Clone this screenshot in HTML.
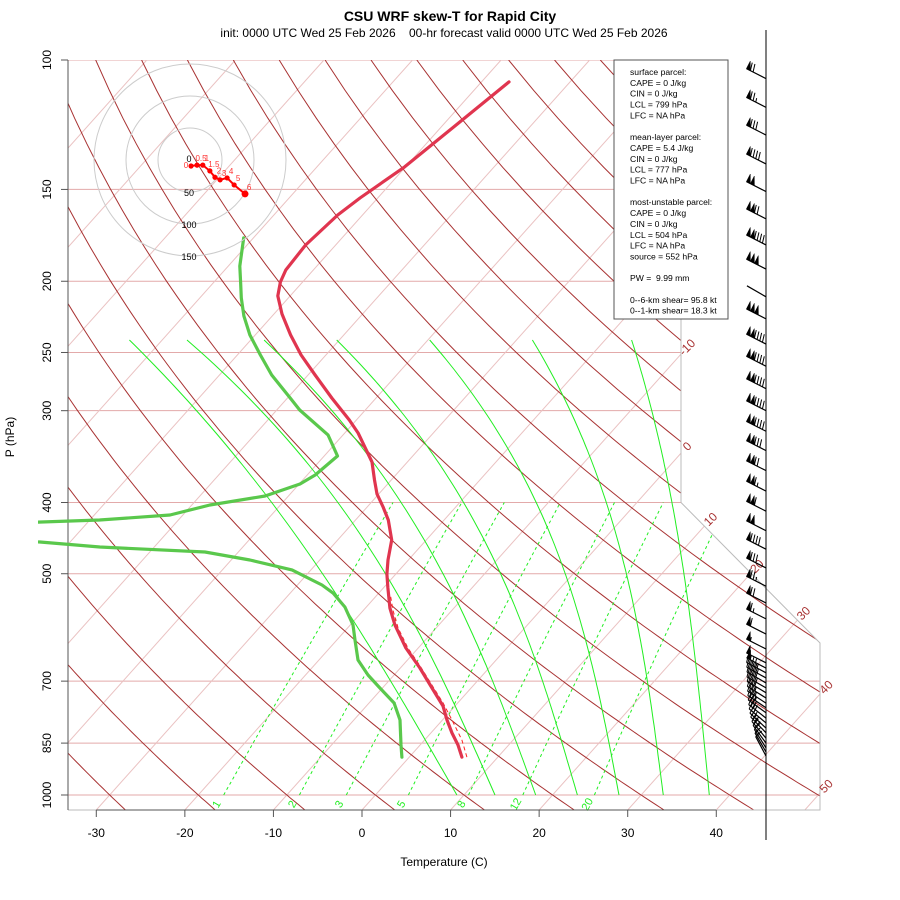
<!DOCTYPE html>
<html><head><meta charset="utf-8"><title>CSU WRF skew-T for Rapid City</title>
<style>
html,body{margin:0;padding:0;background:#fff;}
svg{display:block;font-family:"Liberation Sans",sans-serif;}
text{white-space:pre;}
</style></head>
<body>
<svg id="chart" width="900" height="900" viewBox="0 0 900 900" xmlns="http://www.w3.org/2000/svg" xml:space="preserve">
<defs>
<clipPath id="diag"><path d="M68,60 L681,60 L681,502.5 L820,643 L820,810 L68,810 Z"/></clipPath>
<clipPath id="plotc"><rect x="38" y="55" width="728" height="760"/></clipPath>
</defs>
<rect x="0" y="0" width="900" height="900" fill="#fff"/>
<text x="450" y="21" text-anchor="middle" font-size="14" font-weight="bold">CSU WRF skew-T for Rapid City</text>
<text x="444" y="37" text-anchor="middle" font-size="12">init: 0000 UTC Wed 25 Feb 2026    00-hr forecast valid 0000 UTC Wed 25 Feb 2026</text>
<text x="444" y="866" text-anchor="middle" font-size="12">Temperature (C)</text>
<text x="14" y="437" text-anchor="middle" font-size="12" transform="rotate(-90 14 437)">P (hPa)</text>
</svg>
<script>
// ---------------- data ----------------
const pLevels = [100,150,200,250,300,400,500,700,850,1000];
const xTicks = [-30,-20,-10,0,10,20,30,40];
const isoT = [-110,-100,-90,-80,-70,-60,-50,-40,-30,-20,-10,0,10,20,30,40,50];
const isoLabels = [-10,0,10,20,30,40,50];
const thetaC = [-30,-20,-10,0,10,20,30,40,50,60,70,80,90,100,110,120,130,140,150,160,170,180,190,200];
const mixW = [1,2,3,5,8,12,20];
const moistT1000 = [9.2,13.5,18.1,22.8,27.5,32.5,37.7];
const moistT500 = [-28.3,-21.2,-14.7,-8.2,-0.9,6.0,12.5];
const moistT240 = [-73.7,-67.2,-58.5,-50.3,-39.8,-28.2,-17.0];

const tempP = [888,855,823.5,790.6,756.7,715.2,671.8,631,587,556.6,522.8,500.5,479,449.9,422.5,405.7,389.5,372.8,352.3,321.7,308.9,288.3,268.3,252,236.7,221.6,209.4,200.5,193.1,178.5,162.5,154.1,139.8,124.5,107.1];
const tempT = [5.94,4.28,2.39,0.51,-1.35,-4.41,-7.79,-11.39,-14.96,-17.24,-19.49,-21.0,-22.3,-23.9,-26.3,-28.2,-30.2,-31.9,-34.0,-38.5,-40.8,-45.0,-49.2,-52.8,-56.0,-59.1,-61.4,-62.5,-63.1,-63.4,-62.8,-62.0,-60.1,-58.7,-56.9];
const dewP = [888,855,790.6,749.6,715.2,686.6,655.1,615.4,587,555,531,517.9,494.1,479,467.1,459.9,452.7,440,426.5,422.5,416,403.2,391.9,377.5,367,345.8,323.7,299.4,288.3,268.3,252,236.7,223,210.8,200.5,190.7,174.6];
const dewT = [-0.84,-2.16,-4.8,-7.18,-10.29,-12.95,-15.59,-17.95,-19.7,-22.42,-25.19,-27.23,-32.13,-37.89,-43.77,-56.14,-63.4,-90,-68.5,-58.9,-51.45,-47.95,-42.64,-39.9,-39.1,-38.5,-41.7,-47.4,-49.7,-54.1,-57.4,-60.6,-63.2,-65.3,-67.0,-68.7,-71.1];
const parcelP = [888,841.8,790.6,749.6,708.6,667.5,631,592.6,560.1,534.4];
const parcelT = [6.5,4.22,1.07,-1.65,-4.72,-7.98,-11.17,-14.3,-16.7,-18.5];

const barbP = [106,116,126.5,138.5,151,164.5,178.5,192.5,210,225,243.5,261,280,300,320,340,362,386,411,437,463,491,520,548,576,604,633,661,672,682,693,704,715,726,738,750,761,773,786,798,811,823,837,850,863,874,885];
const barbSpd = [70,75,80,90,100,120,140,150,2,150,140,140,140,140,140,130,120,115,110,100,90,80,75,70,65,60,55,50,50,45,45,40,40,40,35,35,35,30,30,30,25,25,20,20,15,15,10];
const barbDir = [297,297,297,297,297,297,297,297,300,297,297,297,297,297,297,297,297,297,297,297,297,297,297,297,297,297,297,297,298,298,299,300,300,301,302,303,304,306,308,310,313,316,320,324,328,330,332];

const hodoU = [1.6,11,20,31,39,47,58,69,86];
const hodoV = [-9.4,-8,-8,-17,-27,-31,-28,-39,-53];
const hodoLab = ['0','0.5','1','1.5','2','3','4','5','6'];
const hodoRings = [50,100,150];

const legendLines = ['surface parcel:','CAPE = 0 J/kg','CIN = 0 J/kg','LCL = 799 hPa','LFC = NA hPa','','mean-layer parcel:','CAPE = 5.4 J/kg','CIN = 0 J/kg','LCL = 777 hPa','LFC = NA hPa','','most-unstable parcel:','CAPE = 0 J/kg','CIN = 0 J/kg','LCL = 504 hPa','LFC = NA hPa','source = 552 hPa','','PW =  9.99 mm','','0--6-km shear= 95.8 kt','0--1-km shear= 18.3 kt'];

// ---------------- axes ----------------
const Y = p => 60 + 319.2*Math.log(p/100);
const X = (T, y) => 362 + 8.857*T + 0.894*(810 - y);
const NS = 'http://www.w3.org/2000/svg';
const svg = document.getElementById('chart');
function mk(tag, attrs, parent){const e=document.createElementNS(NS,tag);for(const k in attrs)e.setAttribute(k,attrs[k]);(parent||svg).appendChild(e);return e;}
function pts(arr){return arr.map(a=>a[0].toFixed(1)+','+a[1].toFixed(1)).join(' ');}

const bg = mk('g',{'clip-path':'url(#diag)'});



pLevels.forEach(p=>{
  const l = mk('line',{x1:68,x2:830,y1:Y(p),y2:Y(p),stroke:'#e3aaaa','stroke-width':1},bg);
  
  
});
isoT.forEach(T=>{
  const l = mk('line',{x1:X(T,810),y1:810,x2:X(T,60),y2:60,stroke:'#eac2c2','stroke-width':1},bg);
  
  
});
thetaC.forEach(th=>{
  const a=[];
  for(let p=1050;p>=100;p-=10){const T=(th+273.15)*Math.pow(p/1000,0.2857)-273.15;const y=Y(p);a.push([X(T,y),y]);}
  const l = mk('polyline',{points:pts(a),fill:'none',stroke:'#a83232','stroke-width':1},bg);
  
  
});
function tdew(w,p){const e=w*p/(622+w);const L=Math.log(e/6.112);return 243.5*L/(17.67-L);}
mixW.forEach(w=>{
  const a=[];
  for(let p=1000;p>=400;p-=20){const y=Y(p);a.push([X(tdew(w,p),y),y]);}
  const l = mk('polyline',{points:pts(a),fill:'none',stroke:'#22ee22','stroke-width':1,'stroke-dasharray':'3,3'},bg);
  
  
});
moistT1000.forEach((t0,i)=>{
  const yb=Y(1000), ym=Y(500), yt=Y(240.4);
  const xb=X(t0,yb), xm=X(moistT500[i],ym), xt=X(moistT240[i],yt);
  const h1=yb-ym, h2=yb-yt, d1=xb-xm, d2=xb-xt;
  const b=(d2-d1*h2/h1)/(h2*h2*h2-h1*h1*h2);
  const a=(d1-b*h1*h1*h1)/h1;
  const arr=[];
  for(let y=yb;y>=yt-0.1;y-=5){const h=yb-y;arr.push([xb-a*h-b*h*h*h,y]);}
  const l = mk('polyline',{points:pts(arr),fill:'none',stroke:'#22ee22','stroke-width':1},bg);
  
  
});
const outline = mk('path',{d:'M681,60 L681,502.5 L820,643 L820,810 L68,810',fill:'none',stroke:'#bbbbbb','stroke-width':1});



isoLabels.forEach(T=>{
  let x,y;
  y = 810-(681-362-8.857*T)/0.894; x=681;
  if(y>502.5){ y=(902.2+8.857*T)/1.8833; x=681+(y-502.5)*0.9893; }
  if(x>820){ x=820; y=810-(820-362-8.857*T)/0.894; }
  const lx=x+9, ly=y-4;
  const t = mk('text',{x:lx,y:ly,fill:'#a83232','font-size':12,'text-anchor':'middle',transform:'rotate(-45 '+lx+' '+ly+')'});
  t.textContent=String(T);
  
  
});
mixW.forEach(w=>{
  const lx=X(tdew(w,1000),Y(1000))-4, ly=806;
  const t = mk('text',{x:lx,y:ly,fill:'#22ee22','font-size':11,'text-anchor':'middle',transform:'rotate(-60 '+lx+' '+ly+')'});
  t.textContent=String(w);
  
  
});

const yax = mk('line',{x1:68,x2:68,y1:60,y2:810,stroke:'#555','stroke-width':1});


pLevels.forEach(p=>{
  const tk = mk('line',{x1:61,x2:68,y1:Y(p),y2:Y(p),stroke:'#555'});
  
  
  const t = mk('text',{x:51,y:Y(p),'font-size':12,'text-anchor':'middle',transform:'rotate(-90 51 '+Y(p)+')'});
  t.textContent=String(p);
  
  
});
const xax = mk('line',{x1:X(xTicks[0],810),x2:X(xTicks[xTicks.length-1],810),y1:810,y2:810,stroke:'#555'});


xTicks.forEach(T=>{
  const x=X(T,810);
  const tk = mk('line',{x1:x,x2:x,y1:810,y2:817,stroke:'#555'});
  
  
  const t = mk('text',{x:x,y:837,'font-size':12,'text-anchor':'middle'});
  t.textContent=String(T);
  
  
});

const prof = mk('g',{'clip-path':'url(#plotc)'});


function profile(P,T){return pts(P.map((p,i)=>{const y=Y(p);return [X(T[i],y),y];}));}
const dew = mk('polyline',{points:profile(dewP,dewT),fill:'none',stroke:'#5ac84c','stroke-width':3.2,'stroke-linejoin':'round','stroke-linecap':'round'},prof);


const par = mk('polyline',{points:profile(parcelP,parcelT),fill:'none',stroke:'#ff2020','stroke-width':1,'stroke-dasharray':'4,3'},prof);


const tmp = mk('polyline',{points:profile(tempP,tempT),fill:'none',stroke:'#e0354f','stroke-width':3.2,'stroke-linejoin':'round','stroke-linecap':'round'},prof);



const hc=[190,160], hs=32/50;
const hg = mk('g',{});


hodoRings.forEach(r=>{
  const c = mk('circle',{cx:hc[0],cy:hc[1],r:r*hs,fill:'none',stroke:'#cccccc','stroke-width':1},hg);
  
  
  const t = mk('text',{x:hc[0]-1,y:hc[1]+r*hs+4,'font-size':9,'text-anchor':'middle'},hg);
  t.textContent=String(r);
  
  
});
const h0 = mk('text',{x:hc[0]-1,y:hc[1]+2,'font-size':9,'text-anchor':'middle'},hg);
h0.textContent='0';


const hpts = hodoU.map((u,i)=>[hc[0]+u*hs, hc[1]-hodoV[i]*hs]);
const hl = mk('polyline',{points:pts(hpts),fill:'none',stroke:'#ff0000','stroke-width':2},hg);


hpts.forEach((q,i)=>{
  const c = mk('circle',{cx:q[0],cy:q[1],r:i===hpts.length-1?3.5:2.6,fill:'#ff0000'},hg);
  
  
  const t = mk('text',{x:q[0]+(i===0?-5:4),y:q[1]-(i===0?-2:4),'font-size':8,fill:'#ff3333','text-anchor':'middle'},hg);
  t.textContent=hodoLab[i];
  
  
});

const lg = mk('g',{});


const lr = mk('rect',{x:614,y:60,width:114,height:259,fill:'#fff',stroke:'#555','stroke-width':1},lg);


legendLines.forEach((s,i)=>{
  if(!s) return;
  const t = mk('text',{x:630,y:75+i*10.85,'font-size':8.6},lg);
  t.textContent=s;
  
  
});

const wl = mk('line',{x1:766,x2:766,y1:30,y2:840,stroke:'#000','stroke-width':1});


const bgp = mk('g',{});


barbP.forEach((p,i)=>{
  const y0=Y(p), x0=766, d=barbDir[i]*Math.PI/180;
  const ux=Math.sin(d), uy=-Math.cos(d), L=22;
  const tx=x0+ux*L, ty=y0+uy*L;
  const px=-uy, py=ux;
  const g = mk('g',{},bgp);
  
  
  mk('line',{x1:x0,y1:y0,x2:tx,y2:ty,stroke:'#000','stroke-width':1.2},g);
  let s=Math.round(barbSpd[i]/5)*5;
  const flags=Math.floor(s/50); s-=flags*50;
  const full=Math.floor(s/10); const half=(s%10)>=5;
  let pos=0;
  for(let k=0;k<flags;k++){
    const ax=tx-ux*pos, ay=ty-uy*pos, bx=tx-ux*(pos+4.5), by=ty-uy*(pos+4.5);
    mk('polygon',{points:pts([[ax,ay],[bx,by],[ax+px*8.5,ay+py*8.5]]),fill:'#000',stroke:'#000','stroke-width':0.5},g);
    pos+=4.5;
  }
  if(flags===0 && full===0 && half) pos=3;
  for(let k=0;k<full;k++){
    const ax=tx-ux*pos, ay=ty-uy*pos;
    mk('line',{x1:ax,y1:ay,x2:ax+px*8+ux*2,y2:ay+py*8+uy*2,stroke:'#000','stroke-width':1},g);
    pos+=3;
  }
  if(half){
    const ax=tx-ux*pos, ay=ty-uy*pos;
    mk('line',{x1:ax,y1:ay,x2:ax+px*4+ux*1,y2:ay+py*4+uy*1,stroke:'#000','stroke-width':1},g);
  }
});
</script>
</body></html>
